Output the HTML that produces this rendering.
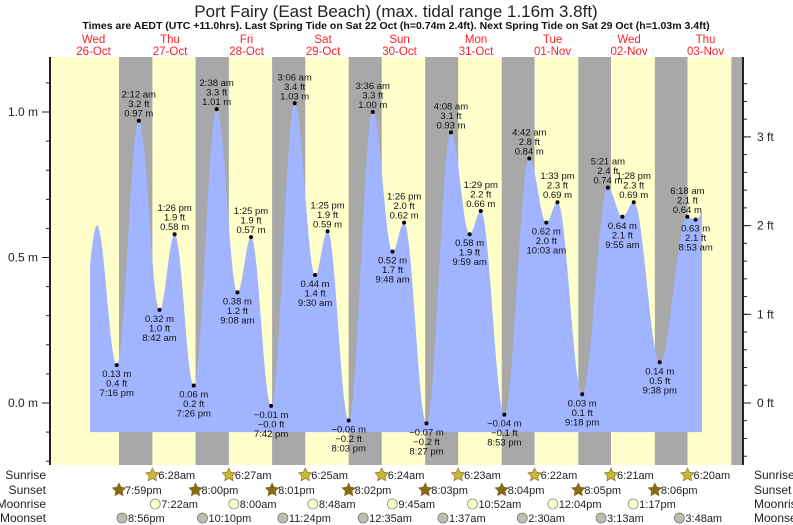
<!DOCTYPE html>
<html><head><meta charset="utf-8"><style>
body{margin:0;background:#fff;}
svg{display:block;font-family:"Liberation Sans",sans-serif;}
</style></head><body>
<svg id="chart" width="793" height="525" viewBox="0 0 793 525" xmlns="http://www.w3.org/2000/svg">
<text x="396" y="17" font-size="17" text-anchor="middle" fill="#222">Port Fairy (East Beach) (max. tidal range 1.16m 3.8ft)</text>
<text x="396" y="29" font-size="10.5" font-weight="bold" text-anchor="middle" fill="#111">Times are AEDT (UTC +11.0hrs). Last Spring Tide on Sat 22 Oct (h=0.74m 2.4ft). Next Spring Tide on Sat 29 Oct (h=1.03m 3.4ft)</text>
<g id="bg"></g><g id="fill"></g><g id="marks"></g><g id="axes"></g><g id="bottom"></g>
</svg>
<script>
// Data (times: [dayIndex from Wed 26-Oct, "h:mm am/pm"], heights in m)
const dayNames = ["Wed","Thu","Fri","Sat","Sun","Mon","Tue","Wed","Thu"];
const dayDates = ["26-Oct","27-Oct","28-Oct","29-Oct","30-Oct","31-Oct","01-Nov","02-Nov","03-Nov"];
const tideDays = [0,0,0,1,1,1,1,2,2,2,2,3,3,3,3,4,4,4,4,5,5,5,5,6,6,6,6,7,7,7,7,8,8,8];
const tideTimes = ["7:40 am","1:05 pm","7:16 pm","2:12 am","8:42 am","1:26 pm","7:26 pm","2:38 am","9:08 am","1:25 pm","7:42 pm","3:06 am","9:30 am","1:25 pm","8:03 pm","3:36 am","9:48 am","1:26 pm","8:27 pm","4:08 am","9:59 am","1:29 pm","8:53 pm","4:42 am","10:03 am","1:33 pm","9:18 pm","5:21 am","9:55 am","1:28 pm","9:38 pm","6:18 am","8:53 am","1:30 pm"];
const tideHeights = [0.22,0.61,0.13,0.97,0.32,0.58,0.06,1.01,0.38,0.57,-0.01,1.03,0.44,0.59,-0.06,1.00,0.52,0.62,-0.07,0.93,0.58,0.66,-0.04,0.84,0.62,0.69,0.03,0.74,0.64,0.69,0.14,0.64,0.63,0.70];
const tideLabelled = [0,0,1,1,1,1,1,1,1,1,1,1,1,1,1,1,1,1,1,1,1,1,1,1,1,1,1,1,1,1,1,1,1,0];
const sunriseDays = [1,2,3,4,5,6,7,8];
const sunriseTimes = ["6:28am","6:27am","6:25am","6:24am","6:23am","6:22am","6:21am","6:20am"];
const sunsetDays = [0,1,2,3,4,5,6,7,8];
const sunsetTimes = ["7:59pm","8:00pm","8:01pm","8:02pm","8:03pm","8:04pm","8:05pm","8:06pm","8:07pm"];
const moonriseDays = [1,2,3,4,5,6,7];
const moonriseTimes = ["7:22am","8:00am","8:48am","9:45am","10:52am","12:04pm","1:17pm"];
const moonsetDays = [0,1,2,4,5,6,7,8];
const moonsetTimes = ["8:56pm","10:10pm","11:24pm","12:35am","1:37am","2:30am","3:13am","3:48am"];
const yTicksM = [0.0,0.5,1.0];
const yTicksFt = [0,1,2,3];

const NS="http://www.w3.org/2000/svg";
const X0=55.3, PXD=76.5, PL=50, PR=743, PT=57, PB=465, Y0=403, PXM=291;
const FILL_START=0.454, FILL_END=8.453;
function hrs(s){const m=s.match(/(\d+):(\d+)\s*(am|pm)/);let h=+m[1]%12;if(m[3]==="pm")h+=12;return h+ +m[2]/60;}
function tx(d,s){return X0+(d+hrs(s)/24)*PXD;}
function xd(t){return X0+t*PXD;}
function ym(m){return Y0-m*PXM;}
function yft(f){return ym(f*0.3048);}
function mk(tag,attrs,parent,text){const e=document.createElementNS(NS,tag);for(const k in attrs)e.setAttribute(k,attrs[k]);if(text!==undefined)e.textContent=text;parent.appendChild(e);return e;}
const bg=document.getElementById('bg'),fillG=document.getElementById('fill'),marks=document.getElementById('marks'),axes=document.getElementById('axes'),bottom=document.getElementById('bottom');

// background
const bgr=mk('rect',{x:PL,y:PT,width:PR-PL,height:PB-PT,fill:'#ffffcc'},bg);


for(let i=0;i<sunsetDays.length;i++){
  const xs=tx(sunsetDays[i],sunsetTimes[i]);
  let xe=PR;
  const j=sunriseDays.indexOf(sunsetDays[i]+1);
  if(j>=0)xe=tx(sunriseDays[j],sunriseTimes[j]);
  const r=mk('rect',{x:xs,y:PT,width:Math.min(xe,PR)-xs,height:PB-PT,fill:'#a8a8a8'},bg);
  
  
}
// day headers
for(let i=0;i<dayNames.length;i++){
  const x=xd(i+0.5);
  const a=mk('text',{x:x,y:43,'font-size':11.5,'text-anchor':'middle',fill:'#f22'},axes,dayNames[i]);
  
  
  const b=mk('text',{x:x,y:55,'font-size':11.5,'text-anchor':'middle',fill:'#f22'},axes,dayDates[i]);
  
  
}
// tide curve
const tT=tideTimes.map((s,i)=>tideDays[i]+hrs(s)/24);
function hAt(t){for(let i=0;i<tT.length-1;i++){if(t>=tT[i]&&t<=tT[i+1]){const f=(t-tT[i])/(tT[i+1]-tT[i]);return tideHeights[i]+(tideHeights[i+1]-tideHeights[i])*(1-Math.cos(Math.PI*f))/2;}}return tideHeights[tideHeights.length-1];}
let d='M'+xd(FILL_START)+','+ym(-0.1);
for(let t=FILL_START;t<=FILL_END+1e-9;t+=0.004)d+=' L'+xd(t).toFixed(2)+','+ym(hAt(t)).toFixed(2);
d+=' L'+xd(FILL_END)+','+ym(hAt(FILL_END))+' L'+xd(FILL_END)+','+ym(-0.1)+' Z';
const fp=mk('path',{d:d,fill:'#a0b4ff'},fillG);


// points & labels
for(let i=0;i<tT.length;i++){
  if(!tideLabelled[i])continue;
  const x=xd(tT[i]),y=ym(tideHeights[i]),h=tideHeights[i];
  const isHigh=(i>0&&h>tideHeights[i-1]);
  const dot=mk('circle',{cx:x,cy:y,r:2,fill:'#000'},marks);
  
  
  const ft=(h/0.3048);let fts=ft.toFixed(1);if(fts==="-0.0"||(h<0&&fts==="0.0"))fts="−0.0";
  const ms=(h<0?'−'+Math.abs(h).toFixed(2):h.toFixed(2))+' m';
  fts=fts.replace('-','−')+' ft';
  const tm=tideTimes[i];
  const lines=isHigh?[tm,fts,ms]:[ms,fts,tm];
  const baseY=isHigh?y-4-2*9.5:y+12;
  lines.forEach((s,k)=>{
    const t=mk('text',{x:x,y:baseY+k*9.5,'font-size':9.5,'text-anchor':'middle',fill:'#111'},marks,s);
    
    
  });
}
// axes
mk('line',{x1:PL,y1:PT,x2:PL,y2:PB,stroke:'#222','stroke-width':2},axes);
mk('line',{x1:PR,y1:PT,x2:PR,y2:PB,stroke:'#222','stroke-width':2},axes);
for(let v=-0.2;v<=1.2;v+=0.1){const y=ym(v);if(y<PT||y>PB)continue;mk('line',{x1:PL-4,y1:y,x2:PL,y2:y,stroke:'#222'},axes);}
yTicksM.forEach(v=>{const y=ym(v);mk('line',{x1:PL-8,y1:y,x2:PL,y2:y,stroke:'#222'},axes);
  const t=mk('text',{x:PL-12,y:y+4,'font-size':12,'text-anchor':'end',fill:'#222'},axes,v.toFixed(1)+' m');
  
  });
for(let f=-0.8;f<=3.8;f+=0.2){const y=yft(f);if(y<PT||y>PB)continue;mk('line',{x1:PR,y1:y,x2:PR+4,y2:y,stroke:'#222'},axes);}
yTicksFt.forEach(v=>{const y=yft(v);mk('line',{x1:PR,y1:y,x2:PR+8,y2:y,stroke:'#222'},axes);
  const t=mk('text',{x:PR+14,y:y+4,'font-size':12,fill:'#222'},axes,v+' ft');
  
  });
// bottom rows
const rows=[["Sunrise",475],["Sunset",490],["Moonrise",504],["Moonset",518]];
rows.forEach(r=>{
  const a=mk('text',{x:46,y:r[1]+4,'font-size':12,'text-anchor':'end',fill:'#222'},bottom,r[0]);
  
  
  const b=mk('text',{x:754,y:r[1]+4,'font-size':12,fill:'#222'},bottom,r[0]);
  
  
});
function star(cx,cy,r,fill){let p='';for(let k=0;k<10;k++){const a=-Math.PI/2+k*Math.PI/5;const rr=k%2?r*0.5:r;p+=(cx+rr*Math.cos(a)).toFixed(1)+','+(cy+rr*Math.sin(a)).toFixed(1)+' ';}return mk('polygon',{points:p,fill:fill,stroke:'#7a6a20','stroke-width':0.6},bottom);}
function evRow(days,times,y,kind){
  for(let i=0;i<days.length;i++){
    const x=tx(days[i],times[i]);if(x>PR)continue;
    let ic;
    if(kind==='sunrise')ic=star(x,y,7,'#c8b838');
    else if(kind==='sunset')ic=star(x,y,7,'#8a6a18');
    else if(kind==='moonrise')ic=mk('circle',{cx:x,cy:y,r:5,fill:'#ffffc8',stroke:'#888','stroke-width':0.8},bottom);
    else ic=mk('circle',{cx:x,cy:y,r:5,fill:'#c0bcb0',stroke:'#777','stroke-width':0.8},bottom);
    
    
    const t=mk('text',{x:x+6,y:y+4,'font-size':11,fill:'#222'},bottom,times[i]);
    
    
  }
}
evRow(sunriseDays,sunriseTimes,475,'sunrise');
evRow(sunsetDays.slice(0,8),sunsetTimes.slice(0,8),490,'sunset');
evRow(moonriseDays,moonriseTimes,504,'moonrise');
evRow(moonsetDays,moonsetTimes,518,'moonset');
</script>
</body></html>
